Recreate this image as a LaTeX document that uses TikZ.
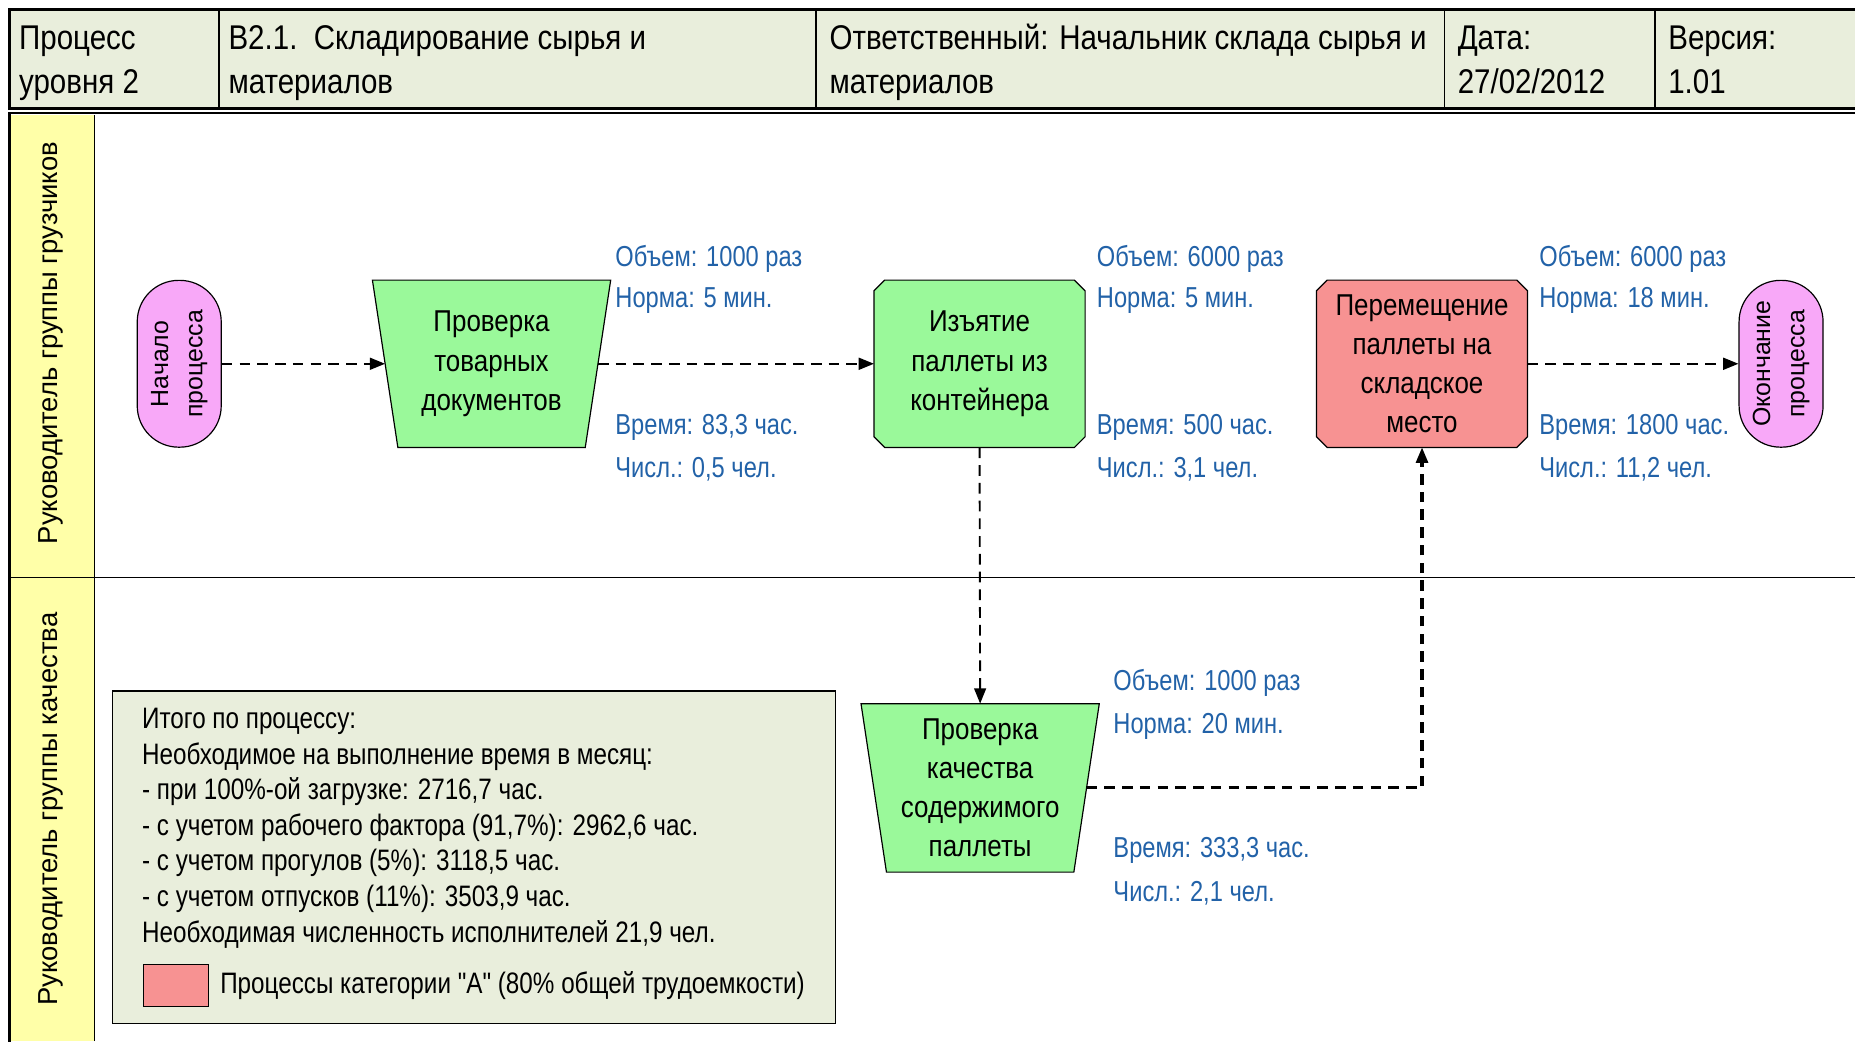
\documentclass[tikz,border=0pt]{standalone}
\usepackage{fontspec}
\setmainfont{Liberation Sans}
\newfontfamily\condfont[FakeStretch=0.86]{Liberation Sans}
\newfontfamily\narrowfont[FakeStretch=0.82]{Liberation Sans}
\usetikzlibrary{arrows.meta,calc,backgrounds}
\definecolor{hdrfill}{HTML}{E9EEDC}
\definecolor{laneyellow}{HTML}{FFFFA8}
\definecolor{procgreen}{HTML}{9AF99A}
\definecolor{termpink}{HTML}{F8A8F8}
\definecolor{procred}{HTML}{F79292}
\definecolor{lblblue}{HTML}{2262A8}
\newcommand{\chamferbox}[2]{%
  \draw[nodeline, fill=#2] ($(#1.north west)+(9,0)$) -- ($(#1.north east)+(-9,0)$) -- ($(#1.north east)+(0,-9)$) -- ($(#1.south east)+(0,9)$) -- ($(#1.south east)+(-9,0)$) -- ($(#1.south west)+(9,0)$) -- ($(#1.south west)+(0,9)$) -- ($(#1.north west)+(0,-9)$) -- cycle;}
\newcommand{\trapbox}[2]{%
  \draw[nodeline, fill=#2] (#1.north west) -- (#1.north east) -- ($(#1.south east)+(-21.5,0)$) -- ($(#1.south west)+(21.5,0)$) -- cycle;}
\begin{document}
\begin{tikzpicture}[x=1pt,y=1pt,
  nodeline/.style={draw=black, line width=1pt},
  hdr/.style={anchor=base west, inner sep=0pt, font=\condfont\fontsize{29}{33}\selectfont},
  lanelbl/.style={rotate=90, inner sep=0pt, font=\fontsize{23.2}{26}\selectfont},
  term/.style={nodeline, fill=termpink, rounded corners=35pt, minimum width=71pt, minimum height=141pt, inner sep=0pt},
  termtext/.style={rotate=90, align=center, inner sep=0pt, font=\fontsize{21}{29}\selectfont},
  proc/.style={align=center, inner sep=0pt, font=\condfont\fontsize{25.5}{33}\selectfont, minimum height=141pt},
  lbl/.style={anchor=base west, inner sep=0pt, text=lblblue, font=\narrowfont\fontsize{24.4}{28}\selectfont},
  leg/.style={anchor=base west, inner sep=0pt, font=\narrowfont\fontsize{25}{28}\selectfont},
  flow/.style={draw=black, line width=2pt, dash pattern=on 9pt off 6pt, -{Triangle[length=13pt,width=10pt]}}
]
\useasboundingbox (0,0) rectangle (1568,880);

% ---------- header ----------
\draw[line width=2.5pt, fill=hdrfill] (8,788) rectangle (1580,872);
\draw[line width=1.2pt] (8,784.5) -- (1580,784.5);
\foreach \x in {185,690,1221,1399} \draw[line width=1.5pt] (\x,788) -- (\x,872);
\node[hdr] (h1a) at (16,838) {Процесс};
\node[hdr] (h1b) at (16,801) {уровня 2};
\node[hdr] (h2a) at (193,838) {B2.1.\ \ Складирование сырья и};
\node[hdr] (h2b) at (193,801) {материалов};
\node[hdr] (h3a) at (701,838) {Ответственный: Начальник склада сырья и};
\node[hdr] (h3b) at (701,801) {материалов};
\node[hdr] (h4a) at (1232,838) {Дата:};
\node[hdr] (h4b) at (1232,801) {27/02/2012};
\node[hdr] (h5a) at (1410,838) {Версия:};
\node[hdr] (h5b) at (1410,801) {1.01};

% ---------- lanes ----------
\fill[laneyellow] (8,0) rectangle (80,783);
\draw[line width=1.2pt] (80,0) -- (80,783);
\draw[line width=1.2pt] (8,392) -- (1580,392);
\draw[line width=3pt] (8,-2) -- (8,785);
\node[lanelbl] (lane1) at (43,590) {Руководитель группы грузчиков};
\node[lanelbl] (lane2) at (43,196) {Руководитель группы качества};

% ---------- process nodes ----------
\node[term] (start) at (151.5,572.5) {};
\node[termtext] (starttxt) at (start.center) {Начало\\процесса};
\node[term] (end) at (1505.5,572.5) {};
\node[termtext] (endtxt) at (end.center) {Окончание\\процесса};

\node[proc, minimum width=201pt] (trap1) at (415.5,572.5) {Проверка\\товарных\\документов};
\node[proc, minimum width=178pt] (box2) at (828,572.5) {Изъятие\\паллеты из\\контейнера};
\node[proc, minimum width=178pt] (box3) at (1202,572.5) {Перемещение\\паллеты на\\складское\\место};
\node[proc, minimum width=201pt, minimum height=142pt] (trap4) at (828.5,214) {Проверка\\качества\\содержимого\\паллеты};

\begin{scope}[on background layer]
  \trapbox{trap1}{procgreen}
  \chamferbox{box2}{procgreen}
  \chamferbox{box3}{procred}
  \trapbox{trap4}{procgreen}
\end{scope}

% ---------- connectors ----------
\draw[flow] (start.east) -- ($(trap1.west)+(10.75,0)$);
\draw[flow] ($(trap1.east)+(-10.75,0)$) -- (box2.west);
\draw[flow, line width=1.6pt] (box2.south) -- (trap4.north);
\draw[flow, line width=2.6pt] ($(trap4.east)+(-10.75,0)$) -| (box3.south);
\draw[flow] (box3.east) -- (end.west);

% ---------- blue labels ----------
\node[lbl] (a1) at (520,655) {Объем: 1000 раз};
\node[lbl] (a2) at (520,620) {Норма: 5 мин.};
\node[lbl] (a3) at (520,513) {Время: 83,3 час.};
\node[lbl] (a4) at (520,476) {Числ.: 0,5 чел.};

\node[lbl] (b1) at (927,655) {Объем: 6000 раз};
\node[lbl] (b2) at (927,620) {Норма: 5 мин.};
\node[lbl] (b3) at (927,513) {Время: 500 час.};
\node[lbl] (b4) at (927,476) {Числ.: 3,1 чел.};

\node[lbl] (c1) at (1301,655) {Объем: 6000 раз};
\node[lbl] (c2) at (1301,620) {Норма: 18 мин.};
\node[lbl] (c3) at (1301,513) {Время: 1800 час.};
\node[lbl] (c4) at (1301,476) {Числ.: 11,2 чел.};

\node[lbl] (d1) at (941,296) {Объем: 1000 раз};
\node[lbl] (d2) at (941,260) {Норма: 20 мин.};
\node[lbl] (d3) at (941,155) {Время: 333,3 час.};
\node[lbl] (d4) at (941,118) {Числ.: 2,1 чел.};

% ---------- legend ----------
\node[draw=black, line width=1.2pt, fill=hdrfill, minimum width=611pt, minimum height=281pt, inner sep=0pt] (legendbox) at (400.5,155.5) {};
\node[leg] (l1) at (120,264) {Итого по процессу:};
\node[leg] (l2) at (120,234) {Необходимое на выполнение время в месяц:};
\node[leg] (l3) at (120,204) {- при 100\%-ой загрузке: 2716,7 час.};
\node[leg] (l4) at (120,174) {- с учетом рабочего фактора (91,7\%): 2962,6 час.};
\node[leg] (l5) at (120,144) {- с учетом прогулов (5\%): 3118,5 час.};
\node[leg] (l6) at (120,114) {- с учетом отпусков (11\%): 3503,9 час.};
\node[leg] (l7) at (120,83) {Необходимая численность исполнителей 21,9 чел.};
\node[draw=black, line width=1pt, fill=procred, minimum width=55pt, minimum height=36pt, inner sep=0pt] (swatch) at (148.5,47) {};
\node[leg] (l8) at (186,40) {Процессы категории "А" (80\% общей трудоемкости)};
\end{tikzpicture}
\end{document}
